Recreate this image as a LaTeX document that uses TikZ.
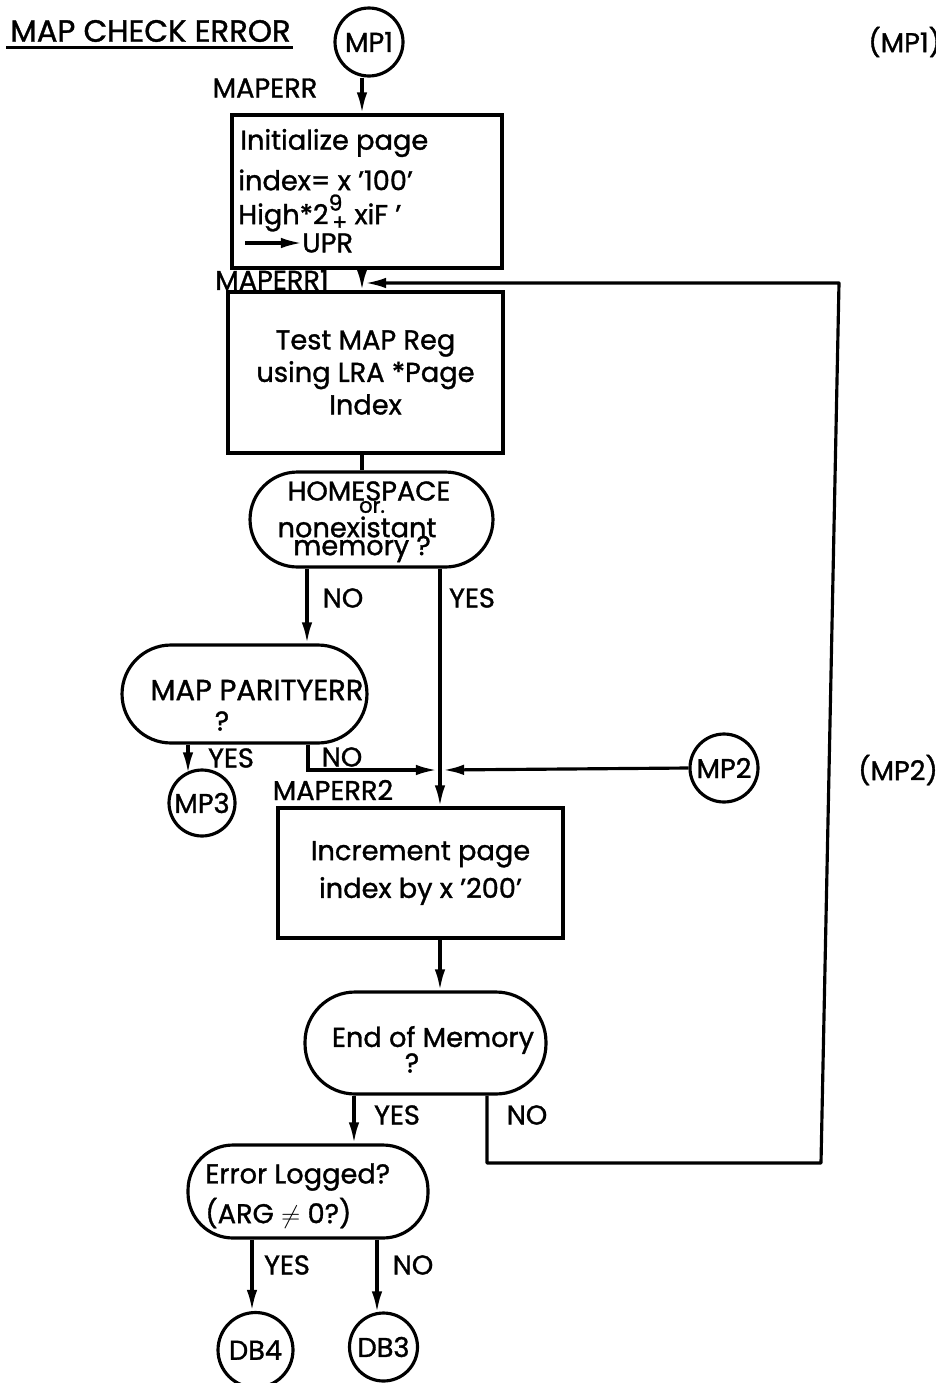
\documentclass[tikz,border=0pt]{standalone}
\usepackage{fontspec}
\setmainfont{Poppins}[FakeBold=1.2]
\usetikzlibrary{arrows.meta,calc}
\begin{document}
\begin{tikzpicture}[x=0.02cm,y=-0.02cm,
  every node/.style={font=\fontsize{15.5}{18.5}\selectfont, inner sep=0pt},
  ln/.style={line width=1.8pt},
  arr/.style={line width=1.8pt,-{Latex[length=12pt,width=6pt]}},
  box/.style={draw,line width=1.8pt,rectangle},
  stad/.style={draw,line width=1.8pt,rectangle},
  circ/.style={draw,line width=1.8pt,circle},
  lbl/.style={font=\fontsize{15.5}{18.5}\selectfont}]
\useasboundingbox (0,0) rectangle (936,1383);
% title
\node[anchor=west,font=\fontsize{17.5}{20}\selectfont] (title) at (10,31) {MAP CHECK ERROR};
\draw[line width=1.6pt] ($(title.south west)+(-4,5)$) coordinate (ul1) -- ($(title.south east)+(2,5)$) coordinate (ul2);
\node[lbl,anchor=west] (mp1ref) at (868,42) {(MP1)};
\node[lbl] (mp2ref) at (898,770) {(MP2)};
% column coordinates
\coordinate (cA) at (362,0);
\coordinate (cNO1) at (307,0);
\coordinate (cYES1) at (440,0);
\coordinate (cYES2) at (188,0);
\coordinate (cNO2) at (308,0);
\coordinate (cNO3) at (487,0);
\coordinate (cYES3) at (354,0);
\coordinate (cYES4) at (252,0);
\coordinate (cNO4) at (377,0);
% nodes
\node[circ,minimum size=1.36cm] (mp1) at (369,42) {MP1};
\node[lbl] (maperr) at (265,88) {MAPERR};
\node[box,minimum width=5.4cm,minimum height=3.06cm] (b1) at (367,191.5) {};
\node[anchor=west] (b1t1) at (240,143) {Initialize page};
\node[anchor=west] (b1t2) at (238,180) {index= x '100'};
\node[anchor=west] (b1t3) at (238,213) {High*2\rlap{\raisebox{0.9ex}{\fontsize{12.5}{12.5}\selectfont 9}}\raisebox{-0.4ex}{\fontsize{12.5}{12.5}\selectfont\,+} xiF '};
\coordinate (upra) at (245,243);
\node[anchor=west] (upr) at (302,243) {UPR};
\node[lbl] (maperr1) at (272,280) {MAPERR1};
\node[box,minimum width=5.5cm,minimum height=3.22cm,align=center] (b2) at (365.5,372.5) {Test MAP Reg\\ using LRA *Page\\Index};
\node[stad,minimum width=4.86cm,minimum height=1.9cm,rounded corners=0.95cm] (d1) at (371.5,519.5) {};
\node (d1t1) at (369,491) {HOMESPACE};
\node[font=\fontsize{12}{12}\selectfont] (d1t2) at (372,507) {or.};
\node (d1t3) at (357,527) {nonexistant};
\node (d1t4) at (362,549) {memory ?};
\node[lbl] (no1) at (343,598) {NO};
\node[lbl] (yes1) at (472,598) {YES};
\node[stad,minimum width=4.9cm,minimum height=1.96cm,rounded corners=0.98cm] (d2) at (244.5,694) {};
\node[font=\fontsize{16.5}{19}\selectfont] (d2t1) at (257,690) {MAP PARITYERR};
\node (d2t2) at (222,721) {?};
\node[lbl] (yes2) at (231,758) {YES};
\node[lbl] (no2) at (342,757) {NO};
\node[lbl] (maperr2) at (333,790) {MAPERR2};
\node[circ,minimum size=1.32cm] (mp3) at (202,803) {MP3};
\node[circ,minimum size=1.36cm] (mp2) at (724,768) {MP2};
\coordinate (j) at (440,770);
\node[box,minimum width=5.7cm,minimum height=2.6cm,align=center,font=\fontsize{15.5}{21.5}\selectfont] (b3) at (420.5,873) {Increment page\\index by x '200'};
\node[stad,minimum width=4.82cm,minimum height=2.04cm,rounded corners=1.0cm] (d3) at (425.5,1043) {};
\node (d3t1) at (433,1040) {End of Memory};
\node (d3t2) at (412,1063) {?};
\node[lbl] (yes3) at (397,1115) {YES};
\node[lbl] (no3) at (527,1115) {NO};
\node[stad,minimum width=4.8cm,minimum height=1.86cm,rounded corners=0.9cm] (d4) at (308,1191.5) {};
\node[anchor=west] (d4t1) at (205,1177) {Error Logged?};
\node[anchor=west] (d4t2) at (205,1213) {(ARG $\neq$ 0?)};
\node[lbl] (yes4) at (287,1265) {YES};
\node[lbl] (no4) at (413,1265) {NO};
\node[circ,minimum size=1.5cm] (db4) at (255.5,1350) {DB4};
\node[circ,minimum size=1.36cm] (db3) at (383.5,1347) {DB3};
% loop coordinates
\coordinate (l1) at (487,1163);
\coordinate (l2) at (821,1163);
\coordinate (l3) at (839,283);
\coordinate (l4) at (365,283);
% connectors
\draw[arr] (upra) -- (upr.west);
\draw[arr] (mp1.south -| cA) -- (b1.north -| cA);
\draw[arr] (b1.south -| cA) -- (b2.north -| cA);
\draw[ln] (b2.south -| cA) -- (d1.north -| cA);
\draw[arr] (d1.south -| cNO1) -- (d2.north -| cNO1);
\draw[arr] (d1.south -| cYES1) -- (b3.north -| cYES1);
\draw[arr] (d2.south -| cYES2) -- ($(mp3.north -| cYES2)+(0,5)$);
\draw[arr] (d2.south -| cNO2) |- ($(j)+(-3,0)$);
\draw[arr] (mp2.west) -- ($(j)+(3,0)$);
\draw[arr] (b3.south -| cYES1) -- (d3.north -| cYES1);
\draw[arr] (d3.south -| cYES3) -- (d4.north -| cYES3);
\draw[arr] (d4.south -| cYES4) -- (db4.north -| cYES4);
\draw[arr] (d4.south -| cNO4) -- ($(db3.north -| cNO4)+(0,1)$);
\draw[arr,line join=round] (d3.south -| cNO3) -- (l1) -- (l2) -- (l3) -- (l4);
\end{tikzpicture}
\end{document}
